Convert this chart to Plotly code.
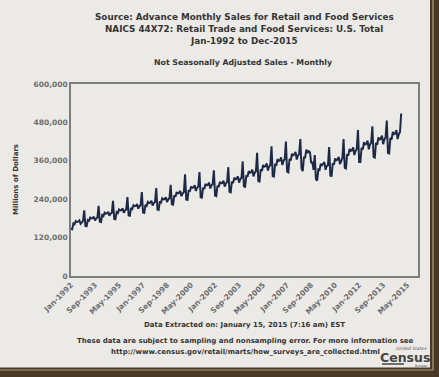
import plotly.graph_objects as go

# ---- Data (thousands of millions of dollars) ----
MONTHS = ["Jan", "Feb", "Mar", "Apr", "May", "Jun", "Jul", "Aug", "Sep", "Oct", "Nov", "Dec"]
AXIS_YEARS = list(range(1992, 2016))

s1992 = [146.7, 145.8, 164.6, 162.1, 171.4, 168.8, 169.7, 173.9, 163.0, 168.8, 171.4, 205.0]
s1993 = [156.3, 155.4, 175.4, 172.7, 182.6, 179.9, 180.8, 185.3, 173.6, 179.9, 182.6, 219.0]
s1994 = [169.4, 168.4, 190.1, 187.2, 197.9, 195.0, 195.9, 200.8, 188.2, 195.0, 197.9, 234.7]
s1995 = [178.1, 177.1, 199.9, 196.9, 208.1, 205.0, 206.0, 211.1, 197.9, 205.0, 208.1, 246.8]
s1996 = [189.4, 188.4, 212.7, 209.4, 221.3, 218.1, 219.2, 224.6, 210.5, 218.1, 221.3, 262.6]
s1997 = [198.2, 197.0, 222.5, 219.1, 231.5, 228.1, 229.3, 234.9, 220.2, 228.1, 231.5, 274.7]
s1998 = [207.8, 206.6, 233.2, 229.7, 242.8, 239.2, 240.4, 246.3, 230.9, 239.2, 242.8, 285.0]
s1999 = [224.4, 223.1, 251.9, 248.0, 262.1, 258.3, 259.6, 266.0, 249.3, 258.3, 262.1, 318.0]
s2000 = [239.2, 237.8, 268.5, 264.4, 279.5, 275.4, 276.7, 283.6, 265.8, 275.4, 279.5, 325.0]
s2001 = [246.2, 244.8, 276.4, 272.1, 287.6, 283.4, 284.8, 291.9, 273.5, 283.4, 287.6, 330.0]
s2002 = [251.4, 250.0, 282.2, 277.9, 293.8, 289.4, 290.9, 298.1, 279.4, 289.4, 293.8, 340.0]
s2003 = [262.8, 261.3, 295.0, 290.5, 307.0, 302.5, 304.0, 311.5, 292.0, 302.5, 307.0, 358.0]
s2004 = [280.2, 278.6, 314.6, 309.8, 327.4, 322.6, 324.2, 332.2, 311.4, 322.6, 327.4, 385.0]
s2005 = [296.8, 295.1, 333.2, 328.1, 346.8, 341.7, 343.4, 351.9, 329.8, 341.7, 346.8, 405.0]
s2006 = [312.5, 310.7, 350.8, 345.5, 365.2, 359.8, 361.6, 370.5, 347.3, 359.8, 365.2, 420.0]
s2007 = [326.0, 324.0, 366.0, 361.0, 382.0, 377.0, 380.0, 388.0, 364.0, 376.0, 382.0, 428.0]
s2008 = [335.0, 328.0, 370.0, 370.0, 395.0, 385.0, 390.0, 387.0, 355.0, 355.0, 332.0, 378.0]
s2009 = [303.0, 298.0, 333.0, 331.0, 350.0, 346.0, 350.0, 356.0, 332.0, 344.0, 346.0, 403.0]
s2010 = [314.0, 311.0, 352.0, 348.0, 367.0, 362.0, 364.0, 372.0, 350.0, 362.0, 368.0, 428.0]
s2011 = [338.0, 336.0, 381.0, 376.0, 397.0, 391.0, 393.0, 402.0, 378.0, 391.0, 397.0, 456.0]
s2012 = [356.0, 356.0, 401.0, 395.0, 418.0, 411.0, 413.0, 423.0, 396.0, 411.0, 417.0, 468.0]
s2013 = [372.0, 370.0, 416.0, 410.0, 433.0, 427.0, 429.0, 439.0, 412.0, 427.0, 433.0, 486.0]
s2014 = [385.0, 383.0, 432.0, 426.0, 450.0, 443.0, 445.0, 456.0, 428.0, 443.0, 450.0, 508.0]

YEARLY = [s1992, s1993, s1994, s1995, s1996, s1997, s1998, s1999, s2000, s2001, s2002,
          s2003, s2004, s2005, s2006, s2007, s2008, s2009, s2010, s2011, s2012, s2013, s2014]

TICK_LABELS = ["Jan-1992", "Sep-1993", "May-1995", "Jan-1997", "Sep-1998", "May-2000",
               "Jan-2002", "Sep-2003", "May-2005", "Jan-2007", "Sep-2008", "May-2010",
               "Jan-2012", "Sep-2013", "May-2015"]
Y_TICKS = [0, 120000, 240000, 360000, 480000, 600000]

# ---- Build series ----
categories = [f"{m}-{y}" for y in AXIS_YEARS for m in MONTHS]
values = [v * 1000 for yr in YEARLY for v in yr]
x_vals = categories[:len(values)]

BG = "#ECEAE6"
TXT = "#353535"
TICK = "#6e6e6e"
FONT = "DejaVu Sans"

fig = go.Figure()
fig.add_trace(go.Scatter(x=x_vals, y=values, mode="lines",
                         line=dict(color="#1e2a45", width=2), hoverinfo="skip"))

L, R, T, B = 71, 21, 84, 101
W, H = 439, 377
pw, ph = W - L - R, H - T - B


def px(xp):
    return (xp - L) / pw


def py(yp):
    return (H - B - yp) / ph


fig.update_layout(
    width=W, height=H,
    margin=dict(l=L, r=R, t=T, b=B, autoexpand=False),
    paper_bgcolor=BG, plot_bgcolor=BG,
    showlegend=False,
    font=dict(family=FONT, color=TXT),
    xaxis=dict(type="category", categoryorder="array", categoryarray=categories,
               range=[0, 289], tickvals=TICK_LABELS,
               ticktext=[f"<b>{t}</b>" for t in TICK_LABELS],
               tickangle=-45, tickfont=dict(size=7.5, color=TICK, family=FONT),
               showgrid=False, zeroline=False, showline=True, mirror=True,
               linecolor="#7d7d7d", linewidth=1.5, ticks=""),
    yaxis=dict(range=[0, 600000], tickvals=Y_TICKS,
               ticktext=[f"<b>{v:,}</b>" for v in Y_TICKS],
               tickfont=dict(size=7.5, color=TICK, family=FONT),
               showgrid=False, zeroline=False, showline=True, mirror=True,
               linecolor="#7d7d7d", linewidth=1.5, ticks=""),
)

def ann(text, x, y, size, color=TXT, angle=0, xanchor="center", yanchor="middle"):
    fig.add_annotation(text=text, x=x, y=y, xref="paper", yref="paper",
                       showarrow=False, textangle=angle, xanchor=xanchor, yanchor=yanchor,
                       font=dict(size=size, color=color, family=FONT))

ann("<b>Source: Advance Monthly Sales for Retail and Food Services</b>", px(244), py(17), 8.8)
ann("<b>NAICS 44X72: Retail Trade and Food Services: U.S. Total</b>", px(244), py(29), 8.8)
ann("<b>Jan-1992 to Dec-2015</b>", px(244), py(41), 8.8)
ann("<b>Not Seasonally Adjusted Sales - Monthly</b>", px(243), py(62), 7.8)
ann("<b>Millions of Dollars</b>", px(16), py(180), 7, angle=-90)
ann("<b>Data Extracted on: January 15, 2015 (7:16 am) EST</b>", px(244), py(325), 7)
ann("<b>These data are subject to sampling and nonsampling error. For more information see</b>",
    px(245), py(341), 7)
ann("<b>http://www.census.gov/retail/marts/how_surveys_are_collected.html</b>",
    px(245), py(352), 7)
ann("<i>United States</i>", px(411), py(348), 4.5, color="#555555")
ann("<b>Census</b>", px(405), py(357), 12.5, color="#444444")
ann("Bureau", px(421), py(366), 3.5, color="#555555")

# photo frame on right and bottom
fig.add_shape(type="rect", xref="paper", yref="paper", x0=px(430), x1=px(460),
              y0=py(-10), y1=py(400), fillcolor="#4a3826", line=dict(width=0), layer="above")
fig.add_shape(type="rect", xref="paper", yref="paper", x0=px(-10), x1=px(460),
              y0=py(367.5), y1=py(400), fillcolor="#4a3826", line=dict(width=0), layer="above")
fig.add_shape(type="line", xref="paper", yref="paper", x0=px(433), x1=px(433),
              y0=py(0), y1=py(370), line=dict(color="#b29c7c", width=1.2), layer="above")
fig.add_shape(type="line", xref="paper", yref="paper", x0=px(0), x1=px(433),
              y0=py(370), y1=py(370), line=dict(color="#b29c7c", width=1.2), layer="above")
fig.add_shape(type="line", xref="paper", yref="paper", x0=px(382), x1=px(404),
              y0=py(364), y1=py(364), line=dict(color="#444444", width=1.5), layer="above")

PAGE_CSS = ("document.body.style.margin='0';document.body.style.padding='0';"
            "document.body.style.background='" + BG + "';"
            "document.documentElement.style.overflow='hidden';")

fig.write_html("out.html", post_script=PAGE_CSS, config={"displayModeBar": False})
